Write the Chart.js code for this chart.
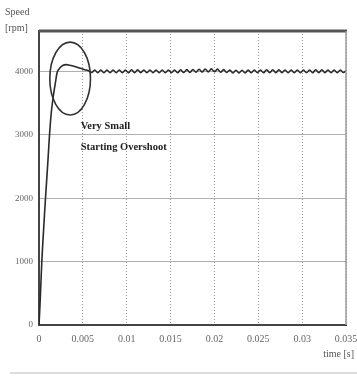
<!DOCTYPE html>
<html>
<head>
<meta charset="utf-8">
<script src="https://cdn.jsdelivr.net/npm/chart.js@4.4.1/dist/chart.umd.min.js"></script>
<style>
    html, body { margin: 0; padding: 0; background: #fff; }
    #wrap { width: 357px; height: 376px; position: relative; }
</style>
</head>
<body>
<div id="wrap"><canvas id="speedChart"></canvas></div>
<script>
// tempo [s]
const timeValues = [
    0, 0.0001, 0.0002, 0.00032, 0.0005, 0.00074, 0.001, 0.0012, 0.0014, 0.00165,
    0.0019, 0.0021, 0.0024, 0.0027, 0.0031, 0.0035, 0.0038, 0.0042, 0.0045, 0.0049,
    0.0052, 0.0056,
    0.0060, 0.00635, 0.0067, 0.00705, 0.0074, 0.00775, 0.0081, 0.00845, 0.0088, 0.00915,
    0.0095, 0.00985, 0.0102, 0.01055, 0.0109, 0.01125, 0.0116, 0.01195, 0.0123, 0.01265,
    0.013, 0.01335, 0.0137, 0.01405, 0.0144, 0.01475, 0.0151, 0.01545, 0.0158, 0.01615,
    0.0165, 0.01685, 0.0172, 0.01755, 0.0179, 0.01825, 0.0186, 0.01895, 0.0193, 0.01965,
    0.02, 0.02035, 0.0207, 0.02105, 0.0214, 0.02175, 0.0221, 0.02245, 0.0228, 0.02315,
    0.0235, 0.02385, 0.0242, 0.02455, 0.0249, 0.02525, 0.0256, 0.02595, 0.0263, 0.02665,
    0.027, 0.02735, 0.0277, 0.02805, 0.0284, 0.02875, 0.0291, 0.02945, 0.0298, 0.03015,
    0.0305, 0.03085, 0.0312, 0.03155, 0.0319, 0.03225, 0.0326, 0.03295, 0.0333, 0.03365,
    0.034, 0.03435, 0.0347, 0.035
];

// velocidade [rpm]
const speedValues = [
    0, 280, 600, 1000, 1450, 2000, 2550, 3000, 3350, 3630,
    3850, 4000, 4060, 4095, 4110, 4100, 4090, 4075, 4060, 4045,
    4030, 4015,
    3985, 4025, 3980, 4025, 3980, 4025, 3980, 4025, 3980, 4025,
    3980, 4025, 3980, 4028, 3982, 4028, 3982, 4025, 3980, 4025,
    3980, 4025, 3980, 4025, 3980, 4025, 3980, 4025, 3980, 4028,
    3984, 4030, 3986, 4032, 3990, 4036, 3992, 4040, 3995, 4042,
    3996, 4038, 3990, 4030, 3984, 4022, 3978, 4020, 3978, 4020,
    3978, 4022, 3980, 4025, 3980, 4025, 3980, 4028, 3982, 4028,
    3982, 4028, 3982, 4025, 3980, 4025, 3980, 4025, 3980, 4025,
    3980, 4025, 3980, 4028, 3982, 4028, 3982, 4025, 3980, 4025,
    3980, 4025, 3984, 4015
];

const xTicks = [0, 0.005, 0.01, 0.015, 0.02, 0.025, 0.03, 0.035];
const yTicks = [0, 1000, 2000, 3000, 4000];
const yMax = 4640;

const noteLines = ['Very Small', 'Starting Overshoot'];

// elipse em torno do sobressinal (coordenadas de dados)
const ellipseCenter = { t: 0.00355, v: 3890 };
const ellipseRadius = { t: 0.00232, v: 575 };
const noteAnchor = { t: 0.00475, v: 3130 };

const annotationPlugin = {
    id: 'annotations',
    afterDraw(chart) {
        const { ctx, chartArea, scales } = chart;
        const x = scales.x, y = scales.y;
        ctx.save();

        // moldura superior e direita
        ctx.strokeStyle = '#555';
        ctx.lineWidth = 3;
        ctx.beginPath();
        ctx.moveTo(chartArea.left, chartArea.top);
        ctx.lineTo(chartArea.right + 1, chartArea.top);
        ctx.stroke();
        ctx.strokeStyle = '#999';
        ctx.lineWidth = 1.5;
        ctx.beginPath();
        ctx.moveTo(chartArea.right, chartArea.top);
        ctx.lineTo(chartArea.right, chartArea.bottom);
        ctx.stroke();

        // linha cinza no rodapé
        ctx.strokeStyle = '#ddd';
        ctx.lineWidth = 2;
        ctx.beginPath();
        ctx.moveTo(10, chart.height - 3);
        ctx.lineTo(chart.width, chart.height - 3);
        ctx.stroke();

        // elipse
        const cx = x.getPixelForValue(ellipseCenter.t);
        const cy = y.getPixelForValue(ellipseCenter.v);
        const rx = x.getPixelForValue(ellipseCenter.t + ellipseRadius.t) - cx;
        const ry = cy - y.getPixelForValue(ellipseCenter.v + ellipseRadius.v);
        ctx.strokeStyle = '#333';
        ctx.lineWidth = 1.6;
        ctx.beginPath();
        ctx.ellipse(cx, cy, rx, ry, 0, 0, Math.PI * 2);
        ctx.stroke();

        // texto
        ctx.fillStyle = '#222';
        ctx.font = 'bold 10.5px "Liberation Serif"';
        ctx.textBaseline = 'middle';
        const tx = x.getPixelForValue(noteAnchor.t);
        const ty = y.getPixelForValue(noteAnchor.v);
        noteLines.forEach((line, i) => ctx.fillText(line, tx, ty + i * 21));

        // títulos dos eixos
        ctx.fillStyle = '#555';
        ctx.font = '10px "Liberation Serif"';
        ctx.textAlign = 'left';
        ctx.fillText('Speed', 5, 12);
        ctx.fillText('[rpm]', 5, 28);
        ctx.textAlign = 'right';
        ctx.fillText('time [s]', 354, 354);
        ctx.restore();
    }
};

const points = timeValues.map((t, i) => ({ x: t, y: speedValues[i] }));

new Chart(document.getElementById('speedChart'), {
    type: 'line',
    data: {
        datasets: [{
            data: points,
            borderColor: '#2a2a2a',
            borderWidth: 1.6,
            tension: 0.35,
            pointRadius: 0,
            fill: false
        }]
    },
    options: {
        responsive: true,
        maintainAspectRatio: false,
        animation: false,
        layout: { padding: { top: 31, right: 11, left: 0, bottom: 0 } },
        plugins: { legend: { display: false }, tooltip: { enabled: false } },
        scales: {
            x: {
                type: 'linear',
                min: 0,
                max: 0.035,
                afterBuildTicks: (scale) => { scale.ticks = xTicks.map(v => ({ value: v })); },
                afterFit: (scale) => {
                    scale.height = 51;
                    scale.paddingLeft = 0;
                    scale.paddingRight = 0;
                },
                ticks: {
                    color: '#666',
                    font: { family: 'Liberation Serif', size: 10 },
                    padding: 8,
                    maxRotation: 0,
                    autoSkip: false,
                    callback: (v) => String(parseFloat(v.toFixed(3)))
                },
                grid: { color: '#999', lineWidth: 1, drawTicks: false },
                border: { color: '#444', width: 2, dash: [1, 2] }
            },
            y: {
                min: 0,
                max: yMax,
                afterBuildTicks: (scale) => { scale.ticks = yTicks.map(v => ({ value: v })); },
                afterFit: (scale) => {
                    scale.width = 39;
                    scale.paddingTop = 0;
                    scale.paddingBottom = 0;
                },
                ticks: {
                    color: '#666',
                    font: { family: 'Liberation Serif', size: 9 },
                    padding: 6,
                    callback: (v) => String(v)
                },
                grid: { color: '#b0b0b0', lineWidth: 1, drawTicks: false },
                border: { color: '#444', width: 2 }
            }
        }
    },
    plugins: [annotationPlugin]
});
</script>
</body>
</html>
